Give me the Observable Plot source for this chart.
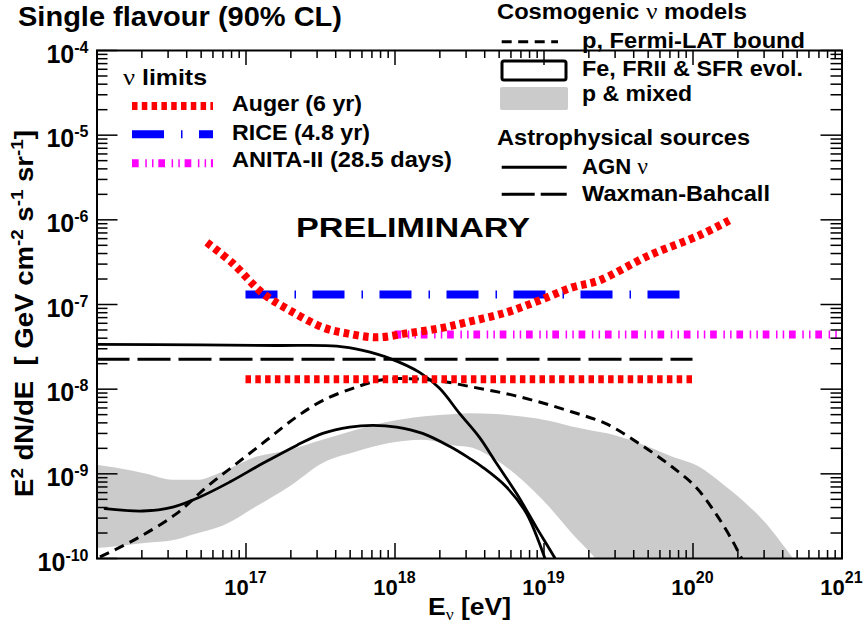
<!DOCTYPE html>
<html>
<head>
<meta charset="utf-8">
<script src="https://cdn.jsdelivr.net/npm/d3@7"></script>
<script src="https://cdn.jsdelivr.net/npm/@observablehq/plot@0.6"></script>
<style>
  body { margin: 0; background: #fff; }
  #chart { position: relative; width: 865px; height: 626px; }
</style>
</head>
<body>
<div id="chart"></div>
<script>
// ---- Data (log10 of energy in eV, log10 of E^2 dN/dE in GeV cm^-2 s^-1 sr^-1) ----

// Auger (6 yr) differential limit
const augerLogE = [16.737, 16.912, 17.113, 17.294, 17.515, 17.676, 17.877, 18.078, 18.299, 18.480, 18.748, 18.969, 19.190, 19.371, 19.706, 20.042, 20.243];
const augerLogF = [-6.267, -6.515, -6.869, -7.070, -7.270, -7.341, -7.388, -7.341, -7.282, -7.211, -7.093, -6.952, -6.798, -6.715, -6.420, -6.184, -6.007];

// Integrated limits: [logE from, logE to, log flux]
const augerIntegrated = [17, 20, -7.884];
const riceLimit = [17, 20, -6.881];
const anitaLimit = [18, 21, -7.353];
const waxmanBahcall = [16, 20, -7.648];

// AGN neutrino model
const agnLogE = [16.0, 16.690, 17.2, 17.609, 17.783, 17.964, 18.165, 18.299, 18.433, 18.567, 18.681, 18.815, 18.949, 19.070, 19.12];
const agnLogF = [-7.471, -7.477, -7.484, -7.491, -7.542, -7.636, -7.802, -7.99, -8.286, -8.569, -8.876, -9.230, -9.632, -9.986, -10.15];

// Cosmogenic: Fe, FRII & SFR evolution
const feLogE = [16.054, 16.308, 16.509, 16.690, 16.891, 17.113, 17.340, 17.515, 17.696, 17.850, 18.011, 18.185, 18.366, 18.500, 18.587, 18.748, 18.882, 18.969, 19.003, 19.04];
const feLogF = [-9.411, -9.439, -9.392, -9.274, -9.097, -8.876, -8.664, -8.522, -8.447, -8.427, -8.447, -8.522, -8.675, -8.817, -8.920, -9.156, -9.466, -9.820, -9.982, -10.15];

// Cosmogenic: p, Fermi-LAT bound
const fermiLogE = [16.020, 16.266, 16.534, 16.735, 16.936, 17.137, 17.338, 17.517, 17.741, 17.919, 18.098, 18.299, 18.520, 18.746, 18.969, 19.190, 19.416, 19.639, 19.861, 20.019, 20.153, 20.263, 20.321, 20.36];
const fermiLogF = [-9.982, -9.765, -9.470, -9.156, -8.880, -8.604, -8.329, -8.132, -7.975, -7.888, -7.876, -7.902, -7.975, -8.053, -8.152, -8.270, -8.407, -8.643, -8.920, -9.156, -9.470, -9.785, -9.982, -10.12];

// Cosmogenic: p & mixed band (lower / upper edge)
const bandLogE  = [16.000, 16.134, 16.335, 16.509, 16.670, 16.845, 17.070, 17.294, 17.515, 17.743, 17.964, 18.185, 18.413, 18.500, 18.681, 18.855, 19.036, 19.190, 19.338, 19.418, 19.639, 19.861, 20.042, 20.196, 20.357, 20.491, 20.598, 20.665, 20.712, 20.78];
const bandLogLo = [-9.883, -9.86, -9.82, -9.79, -9.71, -9.620, -9.392, -9.156, -8.880, -8.743, -8.643, -8.604, -8.675, -8.69, -8.841, -9.077, -9.392, -9.707, -9.982, -10.15, -10.5, -10.5, -10.5, -10.5, -10.5, -10.5, -10.5, -10.5, -10.5, -10.5];
const bandLogHi = [-8.900, -8.935, -9.006, -9.077, -9.077, -8.98, -8.805, -8.723, -8.604, -8.486, -8.388, -8.329, -8.30, -8.289, -8.300, -8.33, -8.38, -8.447, -8.50, -8.525, -8.643, -8.802, -8.920, -9.116, -9.352, -9.588, -9.825, -9.982, -10.12, -10.5];

// Axis decades
const decadesE = [16, 17, 18, 19, 20, 21];
const decadesF = [-10, -9, -8, -7, -6, -5, -4];

// ---- Helpers ----
const pow = v => 10 ** v;
const curve = (xs, ys) => xs.map((x, i) => ({E: pow(x), F: pow(ys[i])}));
const flat = ([e1, e2, f]) => [{E1: pow(e1), E2: pow(e2), F: pow(f)}];

const W = 865, H = 626;
const M = {left: 96.5, right: 23.5, top: 50, bottom: 68};
const FW = W - M.left - M.right, FH = H - M.top - M.bottom;
const FONT = "'Liberation Sans', Arial, Helvetica, sans-serif";
const GREEK = "'Liberation Serif', 'DejaVu Serif', serif";

const majorE = decadesE.map(pow);
const minorE = decadesE.slice(0, -1).flatMap(n => d3.range(2, 10).map(k => k * 10 ** n));
const majorF = decadesF.map(pow);
const minorF = decadesF.slice(0, -1).flatMap(n => d3.range(2, 10).map(k => k * 10 ** n));
const fmt = d => `10^${Math.round(Math.log10(d))}`;

const band = bandLogE.map((x, i) => ({E: pow(x), lo: pow(bandLogLo[i]), hi: pow(bandLogHi[i])}));

const red = "#ff0000", blue = "#0000ff", magenta = "#ff00ff", grey = "#cbcbcb";
const augerDash = "5.5,4.3";
const riceDash = "32,17,1.5,16.5";
const anitaDash = "6.7,6.6,1.5,5.2,1.5,4.8";
const fermiDash = "10,6.5";
const wbDash = "33,8";

const tickStyle = {stroke: "black", strokeWidth: 1.5};

const svg = Plot.plot({
  width: W, height: H,
  marginLeft: M.left, marginRight: M.right, marginTop: M.top, marginBottom: M.bottom,
  style: {fontFamily: FONT, background: "white", color: "black", overflow: "visible"},
  x: {type: "log", domain: [1e16, 1e21]},
  y: {type: "log", domain: [1e-10, 1e-4]},
  marks: [
    // p & mixed band
    Plot.areaY(band, {x: "E", y1: "lo", y2: "hi", fill: grey, curve: "monotone-x", clip: true}),
    // model curves
    Plot.line(curve(feLogE, feLogF), {x: "E", y: "F", stroke: "black", strokeWidth: 2.8, curve: "catmull-rom", clip: true}),
    Plot.line(curve(agnLogE, agnLogF), {x: "E", y: "F", stroke: "black", strokeWidth: 2.8, curve: "catmull-rom", clip: true}),
    Plot.line(curve(fermiLogE, fermiLogF), {x: "E", y: "F", stroke: "black", strokeWidth: 3, strokeDasharray: fermiDash, strokeLinecap: "butt", curve: "catmull-rom", clip: true}),
    Plot.ruleY(flat(waxmanBahcall), {y: "F", x1: "E1", x2: "E2", stroke: "black", strokeWidth: 3, strokeDasharray: wbDash}),
    // neutrino limits
    Plot.ruleY(flat(anitaLimit), {y: "F", x1: "E1", x2: "E2", stroke: magenta, strokeWidth: 8, strokeDasharray: anitaDash}),
    Plot.ruleY(flat(riceLimit), {y: "F", x1: "E1", x2: "E2", stroke: blue, strokeWidth: 8, strokeDasharray: riceDash}),
    Plot.line(curve(augerLogE, augerLogF), {x: "E", y: "F", stroke: red, strokeWidth: 8, strokeDasharray: augerDash, strokeLinecap: "butt", curve: "catmull-rom", clip: true}),
    Plot.ruleY(flat(augerIntegrated), {y: "F", x1: "E1", x2: "E2", stroke: red, strokeWidth: 8, strokeDasharray: augerDash}),
    // inward ticks on all four sides
    Plot.tickY(majorF, {y: d => d, insetRight: FW - 21, ...tickStyle}),
    Plot.tickY(minorF, {y: d => d, insetRight: FW - 11, ...tickStyle}),
    Plot.tickY(majorF, {y: d => d, insetLeft: FW - 21, ...tickStyle}),
    Plot.tickY(minorF, {y: d => d, insetLeft: FW - 11, ...tickStyle}),
    Plot.tickX(majorE, {x: d => d, insetTop: FH - 15, ...tickStyle}),
    Plot.tickX(minorE, {x: d => d, insetTop: FH - 8, ...tickStyle}),
    Plot.tickX(majorE, {x: d => d, insetBottom: FH - 15, ...tickStyle}),
    Plot.tickX(minorE, {x: d => d, insetBottom: FH - 8, ...tickStyle}),
    // tick labels
    Plot.axisY(majorF, {anchor: "left", tickSize: 0, tickPadding: 9, tickFormat: fmt, fontSize: 25, fontWeight: "bold", label: null}),
    Plot.axisX(majorE.slice(1), {anchor: "bottom", tickSize: 0, tickPadding: 0, tickFormat: fmt, fontSize: 22, fontWeight: "bold", label: null}),
    Plot.frame({stroke: "black", strokeWidth: 2})
  ]
});

document.getElementById("chart").appendChild(svg);

const NS = "http://www.w3.org/2000/svg";
const sx = svg.scale("x"), sy = svg.scale("y");

// Tick labels: "10" with a raised exponent, placed from the plot's scales
function powerLabels(axis, size, supSize, supShift, anchor, place) {
  const g = svg.querySelector(`g[aria-label="${axis}-axis tick label"]`);
  if (!g) return;
  g.removeAttribute("transform");
  g.querySelectorAll("text").forEach(t => {
    const [base, exp] = t.textContent.split("^");
    const [x, y] = place(10 ** +exp);
    t.textContent = "";
    ["dy", "x", "y"].forEach(a => t.removeAttribute(a));
    t.setAttribute("transform", `translate(${x},${y})`);
    t.setAttribute("text-anchor", anchor);
    t.setAttribute("font-size", size);
    t.setAttribute("font-weight", "bold");
    t.setAttribute("font-family", FONT);
    const a = document.createElementNS(NS, "tspan");
    a.textContent = base;
    const b = document.createElementNS(NS, "tspan");
    b.setAttribute("dy", -supShift);
    b.setAttribute("font-size", supSize);
    b.textContent = exp;
    t.append(a, b);
  });
}
powerLabels("y", 25, 16, 10, "end", v => [M.left - 8, sy.apply(v) + 12.5]);
powerLabels("x", 22, 16, 12, "middle", v => [sx.apply(v), 595]);

// Free text with optional super/subscripts and Greek letters
function addText(x, y, parts, {size = 21.5, length, anchor = "start", rotate = false} = {}) {
  const t = document.createElementNS(NS, "text");
  t.setAttribute("transform", rotate ? `translate(${x},${y}) rotate(-90)` : `translate(${x},${y})`);
  t.setAttribute("font-family", FONT);
  t.setAttribute("font-weight", "bold");
  t.setAttribute("font-size", size);
  t.setAttribute("text-anchor", anchor);
  t.setAttribute("fill", "black");
  t.style.whiteSpace = "pre";
  if (length) {
    t.setAttribute("textLength", length);
    t.setAttribute("lengthAdjust", "spacingAndGlyphs");
  }
  let shift = 0;
  for (const p of parts) {
    const part = typeof p === "string" ? {t: p} : p;
    const s = document.createElementNS(NS, "tspan");
    const target = part.sup ? -part.sup : part.sub ? part.sub : 0;
    if (target !== shift) { s.setAttribute("dy", target - shift); shift = target; }
    if (part.size) s.setAttribute("font-size", part.size);
    if (part.greek) { s.setAttribute("font-family", GREEK); s.setAttribute("font-weight", "normal"); }
    s.textContent = part.t;
    t.appendChild(s);
  }
  svg.appendChild(t);
  return t;
}

function addLine(x1, x2, y, stroke, width, dash) {
  const l = document.createElementNS(NS, "line");
  Object.entries({x1, x2, y1: y, y2: y, stroke, "stroke-width": width}).forEach(([k, v]) => l.setAttribute(k, v));
  if (dash) l.setAttribute("stroke-dasharray", dash);
  svg.appendChild(l);
}

function addRect(x, y, w, h, attrs) {
  const r = document.createElementNS(NS, "rect");
  Object.entries({x, y, width: w, height: h, rx: 2, ...attrs}).forEach(([k, v]) => r.setAttribute(k, v));
  svg.appendChild(r);
}

// Titles
addText(18, 25.5, ["Single flavour (90% CL)"], {size: 27, length: 324});
addText(296, 237, ["PRELIMINARY"], {size: 27, length: 234});
addText(428, 615, ["E", {t: "ν", sub: 5, size: 16, greek: true}, " [eV]"], {size: 24, length: 83});
addText(33, 497, ["E", {t: "2", sup: 10, size: 17}, " dN/dE  [ GeV cm", {t: "-2", sup: 10, size: 17},
  " s", {t: "-1", sup: 10, size: 17}, " sr", {t: "-1", sup: 10, size: 17}, "]"], {size: 25, length: 367, rotate: true});

// Limits legend
addText(123, 85, [{t: "ν", greek: true, size: 23}, " limits"], {length: 84});
addLine(132, 213, 106, red, 8, augerDash);
addText(232, 111, ["Auger (6 yr)"], {length: 130});
addLine(132, 213, 134.3, blue, 8, riceDash);
addText(232, 140, ["RICE (4.8 yr)"], {length: 138});
addLine(132, 213, 163.3, magenta, 8, anitaDash);
addText(232, 167, ["ANITA-II (28.5 days)"], {length: 220});

// Models legend
addText(497, 18.5, ["Cosmogenic ", {t: "ν", greek: true, size: 23}, " models"], {length: 250});
addLine(501.7, 558, 41.7, "black", 3, fermiDash);
addText(582, 47.5, ["p, Fermi-LAT bound"], {length: 223});
addRect(502, 61, 64, 19, {fill: "none", stroke: "black", "stroke-width": 3});
addText(582, 76, ["Fe, FRII & SFR evol."], {length: 221});
addRect(500, 87, 68, 23, {fill: grey});
addText(582, 100.5, ["p & mixed"], {length: 110});
addText(497, 145, ["Astrophysical sources"], {length: 253});
addLine(501.7, 566.7, 167.3, "black", 3);
addText(582, 174, ["AGN ", {t: "ν", greek: true, size: 23}], {length: 66});
addLine(501.7, 566.7, 194.3, "black", 3, "33,6");
addText(582, 200.5, ["Waxman-Bahcall"], {length: 188});
</script>
</body>
</html>
